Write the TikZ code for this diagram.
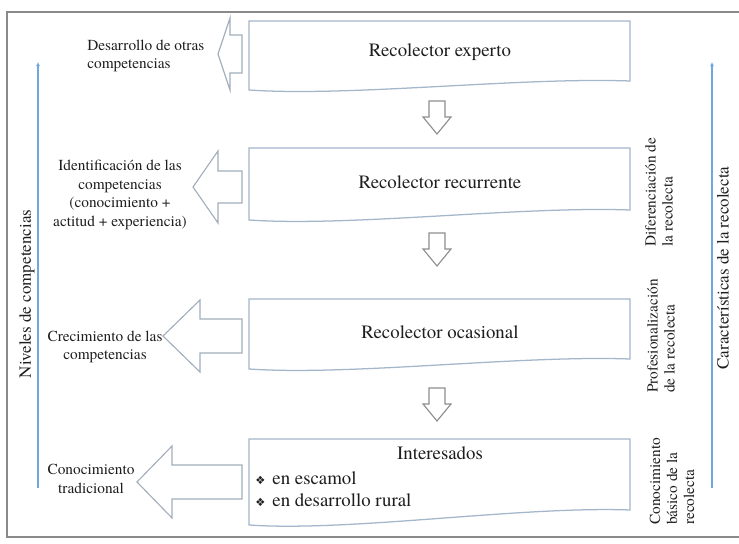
\documentclass[tikz,border=0pt]{standalone}
\usepackage{fontspec}
\setmainfont{texgyretermes}[Extension=.otf, UprightFont=*-regular, BoldFont=*-bold, ItalicFont=*-italic, BoldItalicFont=*-bolditalic]
\newfontfamily\symfont{DejaVu Sans}
\usepackage{tikz}
\usetikzlibrary{arrows.meta}
\definecolor{ink}{HTML}{1E1E1E}
\definecolor{boxline}{HTML}{A3B6CA}
\definecolor{arrline}{HTML}{A2AEBB}
\definecolor{darrline}{HTML}{8E8E8E}
\definecolor{axis}{HTML}{6FA8DC}
\definecolor{framegray}{HTML}{8A8A8A}
\newcommand{\itemmark}{{\symfont\fontsize{8}{8}\selectfont ❖}\hspace{5pt}}
\tikzset{
  docbox/.style={draw=boxline, line width=0.9pt, fill=white},
  larrow/.style={draw=arrline, line width=0.8pt, fill=white},
  darrow/.style={draw=darrline, line width=0.8pt, fill=white},
  axisline/.style={draw=axis, line width=1.4pt, -{Latex[length=3pt,width=3pt]}},
  framel/.style={draw=framegray, line width=0.9pt},
  btxt/.style={text=ink, font=\fontsize{13.4}{16}\selectfont, inner sep=0pt},
  lbl/.style={text=ink, font=\fontsize{10.9}{13.3}\selectfont, inner sep=0pt},
  rlbl/.style={text=ink, font=\fontsize{10.9}{12.1}\selectfont, inner sep=0pt, rotate=90, anchor=west, align=left},
  ttl/.style={text=ink, font=\fontsize{12.1}{14}\selectfont, inner sep=0pt, rotate=90}
}

\begin{document}
\begin{tikzpicture}[x=0.025cm, y=-0.025cm]
  \useasboundingbox (0,0) rectangle (739,544);
  \draw[framel] (739,12) -- (7,12) -- (7,537) -- (739,537);

  % side axes
  \coordinate (lvlbot) at (38,488);
  \coordinate (lvltop) at (38,62);
  \coordinate (carbot) at (712,488);
  \coordinate (cartop) at (712,62);
  \draw[axisline] (lvlbot) -- (lvltop);
  \draw[axisline] (carbot) -- (cartop);
  \node[ttl] (lvlttl) at (27,294) {Niveles de competencias};
  \node[ttl] (carttl) at (723,268) {Características de la recolecta};

  % levels
  \foreach \t/\bl/\br in {21/90/81, 148/220/210, 299/369/359, 439/525/510}
    \draw[docbox] (249,\t) -- (630,\t) -- (630,\br)
      .. controls (520,\br-4) and (350,\bl+7) .. (249,\bl) -- cycle;

  \foreach \ay in {101,233,388}
    \draw[darrow] (429,\ay) -- (445,\ay) -- (445,\ay+16) -- (451,\ay+16)
      -- (437,\ay+33) -- (423,\ay+16) -- (429,\ay+16) -- cycle;

  \foreach \cy/\bx/\tx/\sh in {54/230/218/19, 187/218/193/16, 336/200/163/17, 482/172/137/17}
    \draw[larrow] (242,\cy-\sh) -- (242,\cy+\sh) -- (\bx,\cy+\sh) -- (\bx,\cy+36)
      -- (\tx,\cy) -- (\bx,\cy-36) -- (\bx,\cy-\sh) -- cycle;

  \node[btxt] (expert) at (440,52) {Recolector experto};
  \node[btxt] (recur) at (440,182) {Recolector recurrente};
  \node[btxt] (occas) at (440,332) {Recolector ocasional};
  \node[btxt] (inter) at (440,453) {Interesados};
  \node[btxt, anchor=west] (item1) at (255,478) {\itemmark en escamol};
  \node[btxt, anchor=west] (item2) at (255,500) {\itemmark en desarrollo rural};

  % left labels
  \node[lbl, anchor=west, align=left] (devlbl) at (87,56) {Desarrollo de otras\\competencias};
  \node[lbl, align=center] (idlbl) at (120,195) {Identificación de las\\competencias\\(conocimiento +\\actitud + experiencia)};
  \node[lbl, align=center] (growlbl) at (105,347) {Crecimiento de las\\competencias};
  \node[lbl, align=center] (tradlbl) at (91,479) {Conocimiento\\tradicional};

  % right labels
  \node[rlbl] (difflbl) at (659,247) {Diferenciación de\\la recolecta};
  \node[rlbl] (proflbl) at (661,393) {Profesionalización\\de la recolecta};
  \node[rlbl] (baselbl) at (672,525) {Conocimiento\\básico de la\\recolecta};
\end{tikzpicture}
\end{document}
